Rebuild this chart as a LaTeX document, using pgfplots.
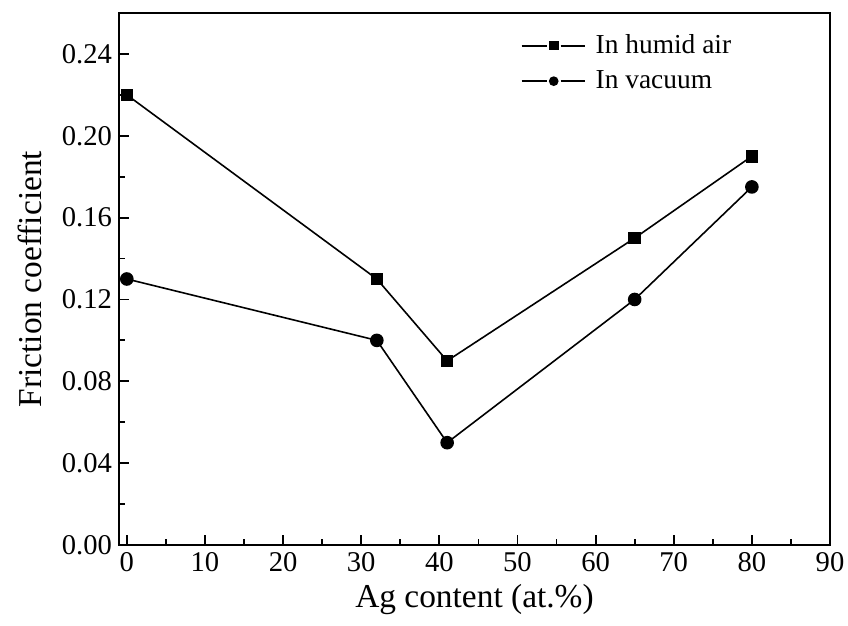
\documentclass[border=0pt]{standalone}
\usepackage{fontspec}
\setmainfont{Liberation Serif}
\usepackage{pgfplots}
\pgfplotsset{compat=1.18}
\begin{document}
\begin{tikzpicture}
\begin{axis}[
  name=main,
  scale only axis,
  width=355.5pt, height=266pt,
  xmin=-1, xmax=90, ymin=0, ymax=0.26,
  xtick={0,10,...,90},
  ytick={0,0.04,...,0.24},
  minor x tick num=1,
  minor y tick num=1,
  tick align=inside,
  xtick pos=bottom, ytick pos=left,
  major tick length=5pt, minor tick length=3pt,
  axis line style={line width=1pt},
  major tick style={black, line width=0.9pt},
  minor tick style={black, line width=0.9pt},
  /pgf/number format/assume math mode=true,
  yticklabel style={/pgf/number format/fixed, /pgf/number format/fixed zerofill, /pgf/number format/precision=2, font=\fontsize{14.3}{16}\selectfont},
  xticklabel style={font=\fontsize{14.3}{16}\selectfont},
  scaled y ticks=false,
  xlabel={Ag content (at.\%)},
  ylabel={Friction coefficient},
  label style={font=\fontsize{16.7}{19}\selectfont},
  xlabel style={at={(axis description cs:0.5,-0.1034)}, anchor=center},
  ylabel style={at={(axis description cs:-0.125,0.5)}, anchor=center},
  legend style={draw=none, fill=none, at={(rel axis cs:0.556,0.975)}, anchor=north west, font=\fontsize{13.7}{15}\selectfont, row sep=3pt, column sep=3pt},
  legend cell align=left,
  legend image code/.code={
    \draw[#1, mark=none, line width=1pt] (0pt,0pt) -- (12.5pt,0pt);
    \draw[#1, mark=none, line width=1pt] (19.5pt,0pt) -- (31.5pt,0pt);
    \draw[#1, only marks, mark size=2pt] plot coordinates {(16pt,0pt)};
  },
]
\addplot[black, line width=0.8pt, mark=square*, mark size=2.75pt] coordinates {
  (0,0.22) (32,0.13) (41,0.09) (65,0.15) (80,0.19)
};
\addlegendentry{In humid air}
\addplot[black, line width=0.8pt, mark=*, mark size=3pt] coordinates {
  (0,0.13) (32,0.10) (41,0.05) (65,0.12) (80,0.175)
};
\addlegendentry{In vacuum}
\end{axis}
\pgfresetboundingbox
\path[use as bounding box] ([shift={(-59.5pt,-40pt)}]main.south west) rectangle ([shift={(9pt,6.5pt)}]main.north east);
\end{tikzpicture}
\end{document}
